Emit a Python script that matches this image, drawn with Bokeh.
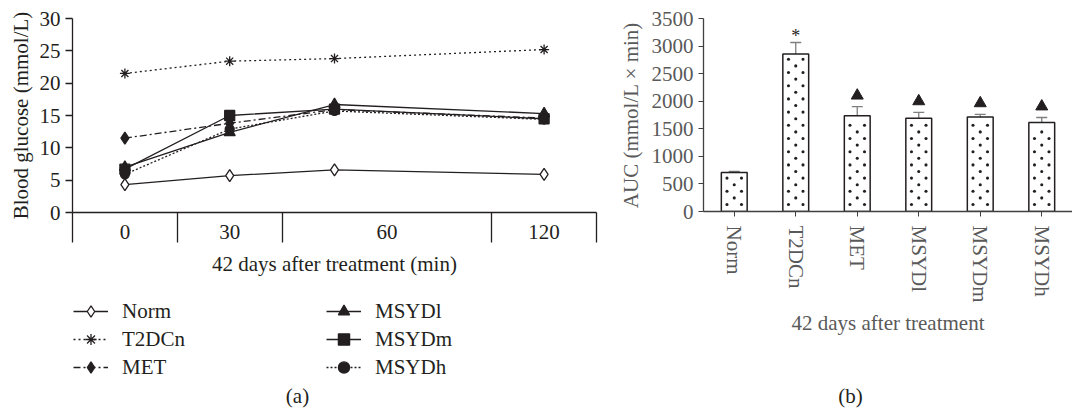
from bokeh.plotting import figure
from bokeh.models import (Range1d, FixedTicker, LinearAxis, CategoricalAxis, Legend, LegendItem,
                          Label, Whisker, ColumnDataSource, FactorRange, TeeHead)
from bokeh.layouts import row, column
from bokeh.transform import dodge
from bokeh.embed import file_html
from bokeh.resources import INLINE
from bokeh.core.properties import value

# ---------------- data ----------------
times = [0, 30, 60, 120]
norm = [4.3, 5.7, 6.6, 5.9]
t2dcn = [21.5, 23.4, 23.8, 25.2]
met = [11.5, 13.8, 15.9, 14.6]
msydl = [7.0, 12.4, 16.7, 15.3]
msydm = [6.7, 15.0, 16.0, 14.5]
msydh = [5.9, 12.9, 15.7, 14.4]

time_labels = ["0", "30", "60", "120"]
time_group_edges = [-15, 15, 45, 105, 135]
glucose_ticks = [0, 5, 10, 15, 20, 25, 30]

groups = ["Norm", "T2DCn", "MET", "MSYDl", "MSYDm", "MSYDh"]
auc = [705, 2855, 1737, 1689, 1713, 1615]
auc_err = [20, 210, 165, 110, 50, 90]
auc_ticks = [0, 500, 1000, 1500, 2000, 2500, 3000, 3500]
star_groups = ["T2DCn"]
tri_groups = ["MET", "MSYDl", "MSYDm", "MSYDh"]

FONT = "Liberation Serif"
DARK = "#231f20"
GREY = "#595959"
FS = "21px"


def blank_fig(**kw):
    f = figure(x_range=Range1d(0, 1), y_range=Range1d(0, 1), x_axis_type=None, y_axis_type=None,
               min_border_top=0, min_border_bottom=0, output_backend="svg",
               toolbar_location=None, **kw)
    f.outline_line_color = None
    f.grid.visible = False
    return f

# ---------------- panel (a) ----------------
p1 = figure(frame_width=524, frame_height=194, min_border_left=72, min_border_right=19,
            min_border_top=18, min_border_bottom=75,
            x_range=Range1d(time_group_edges[0], time_group_edges[-1]), y_range=Range1d(0, 30),
            x_axis_type=None, y_axis_type=None,
            output_backend="svg", toolbar_location=None)
p1.outline_line_color = None

centers = [(a + b) / 2 for a, b in zip(time_group_edges[:-1], time_group_edges[1:])]
xaxis = LinearAxis(ticker=FixedTicker(ticks=centers, minor_ticks=time_group_edges),
                   major_label_overrides={c: l for c, l in zip(centers, time_labels)})
xaxis.major_tick_out = 0
xaxis.major_tick_in = 0
xaxis.minor_tick_out = 30
xaxis.minor_tick_in = 0
xaxis.minor_tick_line_color = DARK
xaxis.minor_tick_line_width = 1.3
xaxis.axis_line_color = DARK
xaxis.axis_line_width = 1.3
xaxis.major_label_standoff = -18
xaxis.major_label_text_font = FONT
xaxis.major_label_text_font_size = FS
xaxis.major_label_text_color = DARK
xaxis.axis_label = "42 days after treatment (min)"
xaxis.axis_label_text_font = FONT
xaxis.axis_label_text_font_size = FS
xaxis.axis_label_text_font_style = "normal"
xaxis.axis_label_text_color = DARK
xaxis.axis_label_standoff = 10
p1.add_layout(xaxis, "below")

yaxis = LinearAxis(ticker=FixedTicker(ticks=glucose_ticks))
yaxis.major_tick_out = 7
yaxis.major_tick_in = 0
yaxis.minor_tick_out = 0
yaxis.minor_tick_in = 0
yaxis.major_tick_line_color = DARK
yaxis.major_tick_line_width = 1.3
yaxis.axis_line_color = DARK
yaxis.axis_line_width = 1.3
yaxis.major_label_standoff = 5
yaxis.major_label_text_font = FONT
yaxis.major_label_text_font_size = FS
yaxis.major_label_text_color = DARK
yaxis.axis_label = "Blood glucose (mmol/L)"
yaxis.axis_label_text_font = FONT
yaxis.axis_label_text_font_size = FS
yaxis.axis_label_text_font_style = "normal"
yaxis.axis_label_text_color = DARK
yaxis.axis_label_standoff = 4
p1.add_layout(yaxis, "left")

series = [
    ("Norm", norm, "solid", "diamond", "white", 12),
    ("T2DCn", t2dcn, "2 3", "asterisk", DARK, 10),
    ("MET", met, "7 3 2 3", "diamond", DARK, 12),
    ("MSYDl", msydl, "solid", "triangle", DARK, 11),
    ("MSYDm", msydm, "solid", "square", DARK, 10),
    ("MSYDh", msydh, "2 2", "circle", DARK, 9),
]

# legend strip under panel (a)
leg_fig = blank_fig(frame_width=524, frame_height=121, min_border_left=72, min_border_right=19)

items = []
for name, ys, dash, marker, fill, size in series:
    for f in (p1, leg_fig):
        lr = f.line(times, ys, line_color=DARK, line_width=1.3, line_dash=dash)
        sr = f.scatter(times, ys, marker=marker, size=size, fill_color=fill,
                       line_color=DARK, line_width=1.3)
    items.append(LegendItem(label=name, renderers=[lr, sr]))


def make_legend(its, loc):
    return Legend(items=its, location=loc, orientation="vertical",
                  glyph_width=35, glyph_height=28, label_height=28, label_standoff=14,
                  spacing=0, padding=0, margin=0, border_line_color=None,
                  background_fill_alpha=0, label_text_font=FONT,
                  label_text_font_size=FS, label_text_color=DARK)


leg_fig.add_layout(make_legend(items[:3], (1, 27)))
leg_fig.add_layout(make_legend(items[3:], (254, 27)))
leg_fig.add_layout(Label(x=225, y=13, x_units="screen", y_units="screen", text="(a)",
                         text_align="center", text_baseline="middle", text_font=FONT,
                         text_font_size=FS, text_color=DARK))

# ---------------- panel (b) ----------------
FRAME_H2 = 193
p2 = figure(frame_width=369, frame_height=FRAME_H2, min_border_left=85, min_border_right=0,
            min_border_top=18, min_border_bottom=127,
            x_range=FactorRange(factors=groups), y_range=Range1d(0, 3500),
            x_axis_type=None, y_axis_type=None,
            output_backend="svg", toolbar_location=None)
p2.outline_line_color = None

src = ColumnDataSource(dict(g=groups, top=auc,
                            upper=[a + e for a, e in zip(auc, auc_err)],
                            lower=[a - e for a, e in zip(auc, auc_err)]))
p2.vbar(x="g", top="top", width=0.42, source=src, fill_color="white",
        line_color=DARK, line_width=1.5)

# staggered dot texture inside each bar (pattern fill, one dot row every 6.6 px)
unit_per_px = 3500 / FRAME_H2
side_g, side_y, mid_g, mid_y = [], [], [], []
for g, t in zip(groups, auc):
    k = 0
    while (7 + 6.6 * k) * unit_per_px <= t - 4 * unit_per_px:
        yy = (7 + 6.6 * k) * unit_per_px
        if k % 2 == 0:
            side_g.append(g)
            side_y.append(yy)
        else:
            mid_g.append(g)
            mid_y.append(yy)
        k += 1
side_src = ColumnDataSource(dict(g=side_g, y=side_y))
mid_src = ColumnDataSource(dict(g=mid_g, y=mid_y))
for off in (-0.118, 0.118):
    p2.scatter(x=dodge("g", off, range=p2.x_range), y="y", source=side_src, marker="circle",
               size=3.1, fill_color=DARK, line_color=None)
p2.scatter(x="g", y="y", source=mid_src, marker="circle", size=3.1, fill_color=DARK,
           line_color=None)

p2.add_layout(Whisker(base="g", upper="upper", lower="lower", source=src,
                      line_color="#7f7f7f", line_width=1.3,
                      upper_head=TeeHead(size=11, line_color="#7f7f7f", line_width=1.3),
                      lower_head=TeeHead(size=11, line_color="#7f7f7f", line_width=1.3)))

star_y = [auc[groups.index(g)] + auc_err[groups.index(g)] for g in star_groups]
p2.text(x=star_groups, y=star_y, text=["*"] * len(star_groups), text_align="center",
        text_baseline="middle", y_offset=-6, text_font=value(FONT), text_font_size="18px",
        text_color=DARK)
tri_y = [auc[groups.index(g)] + auc_err[groups.index(g)] + 200 for g in tri_groups]
p2.scatter(x=tri_groups, y=tri_y, marker="triangle", size=12, fill_color=DARK, line_color=DARK)

xaxis2 = CategoricalAxis()
xaxis2.major_tick_out = 5
xaxis2.major_tick_in = 0
xaxis2.major_tick_line_color = "#404040"
xaxis2.axis_line_color = "#404040"
xaxis2.axis_line_width = 1.3
xaxis2.major_label_orientation = "vertical"
xaxis2.major_label_standoff = 9
xaxis2.major_label_text_font = FONT
xaxis2.major_label_text_font_size = FS
xaxis2.major_label_text_color = GREY
xaxis2.axis_label = "42 days after treatment"
xaxis2.axis_label_text_font = FONT
xaxis2.axis_label_text_font_size = FS
xaxis2.axis_label_text_font_style = "normal"
xaxis2.axis_label_text_color = GREY
xaxis2.axis_label_standoff = 5
p2.add_layout(xaxis2, "below")

yaxis2 = LinearAxis(ticker=FixedTicker(ticks=auc_ticks))
yaxis2.major_tick_out = 5
yaxis2.major_tick_in = 0
yaxis2.minor_tick_out = 0
yaxis2.minor_tick_in = 0
yaxis2.major_tick_line_color = "#404040"
yaxis2.axis_line_color = "#404040"
yaxis2.axis_line_width = 1.3
yaxis2.major_label_standoff = 5
yaxis2.major_label_text_font = FONT
yaxis2.major_label_text_font_size = FS
yaxis2.major_label_text_color = GREY
yaxis2.axis_label = "AUC (mmol/L × min)"
yaxis2.axis_label_text_font = FONT
yaxis2.axis_label_text_font_size = FS
yaxis2.axis_label_text_font_style = "normal"
yaxis2.axis_label_text_color = GREY
yaxis2.axis_label_standoff = 6
p2.add_layout(yaxis2, "left")

b_fig = blank_fig(frame_width=369, frame_height=70, min_border_left=85, min_border_right=0)
b_fig.add_layout(Label(x=147, y=13, x_units="screen", y_units="screen", text="(b)",
                       text_align="center", text_baseline="middle", text_font=FONT,
                       text_font_size=FS, text_color=DARK))

layout = row(column(p1, leg_fig), column(p2, b_fig))
open("out.html", "w").write(file_html(layout, INLINE))
